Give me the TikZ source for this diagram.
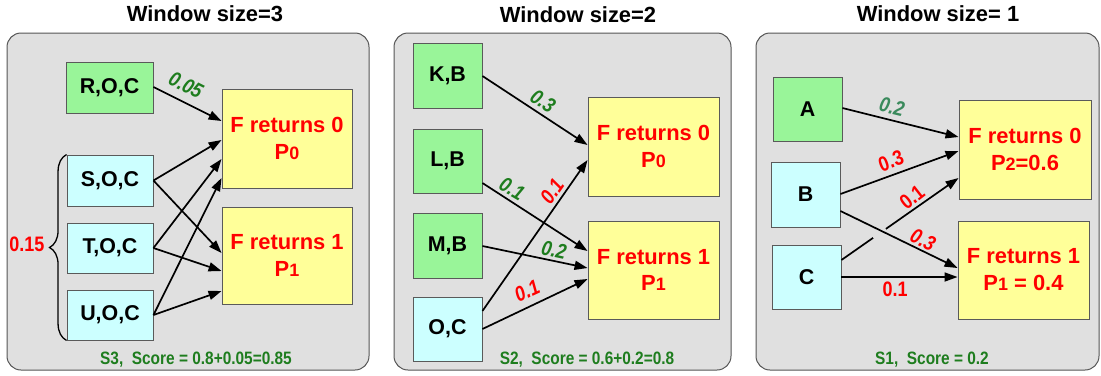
\documentclass[tikz,border=0pt]{standalone}
\usepackage{fontspec}
\setmainfont{Liberation Sans}
\newfontfamily\narrowfont[FakeStretch=0.86]{Liberation Sans}
\usetikzlibrary{arrows.meta,decorations.pathreplacing,calc}
\definecolor{panelfill}{HTML}{E0E0E0}
\definecolor{panelline}{HTML}{555555}
\definecolor{boxgreen}{HTML}{99F599}
\definecolor{boxcyan}{HTML}{CCFFFF}
\definecolor{boxyellow}{HTML}{FFFF99}
\definecolor{boxline}{HTML}{5A5A5A}
\definecolor{txtred}{HTML}{FF0000}
\definecolor{txtgreen}{HTML}{1E7D1E}
\definecolor{txtteal}{HTML}{3A8A5C}
\tikzset{
  panel/.style={draw=panelline, fill=panelfill, line width=1bp, rounded corners=14bp},
  title/.style={font=\fontsize{22}{25}\selectfont\bfseries},
  inbox/.style={draw=boxline, line width=0.9bp, font=\fontsize{21.5}{25}\selectfont\bfseries, inner sep=0pt},
  grn/.style={inbox, fill=boxgreen},
  cyn/.style={inbox, fill=boxcyan},
  outbox/.style={draw=boxline, line width=0.9bp, fill=boxyellow, text=txtred, align=center,
     font=\fontsize{22}{27}\selectfont\bfseries, inner sep=0pt},
  arr/.style={draw=black, line width=1.7bp, -{Triangle[length=13bp,width=9bp]}},
  seg/.style={draw=black, line width=1.7bp},
  lab/.style={font=\narrowfont\fontsize{21}{24}\selectfont\bfseries, inner sep=0pt},
  labi/.style={lab, font=\narrowfont\fontsize{21}{24}\selectfont\bfseries\itshape},
  score/.style={font=\narrowfont\fontsize{18}{21}\selectfont\bfseries, text=txtgreen, inner sep=0pt},
}
\newcommand{\smalldig}[1]{{\fontsize{18}{20}\selectfont #1}}
\begin{document}
\begin{tikzpicture}[x=1bp,y=-1bp]
\useasboundingbox (0,0) rectangle (1101,375);

% ---------- panel 1 ----------
\node[title] (t1) at (205,14) {Window size=3};
\draw[panel] (7,33) rectangle (369,370);
\node[grn, minimum width=87bp, minimum height=51bp] (roc) at (109.5,87.5) {R,O,C};
\node[cyn, minimum width=86bp, minimum height=51bp] (soc) at (110,180.5) {S,O,C};
\node[cyn, minimum width=86bp, minimum height=50bp] (toc) at (110,248) {T,O,C};
\node[cyn, minimum width=86bp, minimum height=50bp] (uoc) at (110,315) {U,O,C};
\node[outbox, minimum width=130bp, minimum height=99bp] (fa0) at (287,138.5) {F returns 0\\P\smalldig{0}};
\node[outbox, minimum width=130bp, minimum height=97bp] (fa1) at (287,255.5) {F returns 1\\P\smalldig{1}};

\draw[arr] (roc.east |- 0,87) -- (fa0.west |- 0,121);
\draw[arr] (soc.east) -- (fa0.west |- 0,140);
\draw[arr] (soc.east) -- (fa1.west |- 0,253);
\draw[arr] (toc.east) -- (fa0.west |- 0,159);
\draw[arr] (toc.east) -- (fa1.west |- 0,271);
\draw[arr] (uoc.east) -- (fa0.west |- 0,178);
\draw[arr] (uoc.east) -- (fa1.west |- 0,291);

\node[labi, text=txtgreen, rotate=-27] (l105) at (186,85) {0.05};
\draw[line width=1.3bp, decorate, decoration={brace, amplitude=17bp}] (uoc.south west) -- (soc.north west);
\node[lab, text=txtred] (l115) at (27,244) {0.15};
\node[score] (s1) at (196,360) {S3,\ \ Score = 0.8+0.05=0.85};

% ---------- panel 2 ----------
\node[title] (t2) at (578,15) {Window size=2};
\draw[panel] (394,33) rectangle (731,370);
\node[grn, minimum width=69bp, minimum height=65bp] (kb) at (447.5,75.5) {K,B};
\node[grn, minimum width=69bp, minimum height=64bp] (lb) at (447.5,161) {L,B};
\node[grn, minimum width=69bp, minimum height=65bp] (mb) at (447.5,245.5) {M,B};
\node[cyn, minimum width=69bp, minimum height=64bp] (oc) at (447.5,329) {O,C};
\node[outbox, minimum width=131bp, minimum height=99bp] (fb0) at (653.5,146.5) {F returns 0\\P\smalldig{0}};
\node[outbox, minimum width=131bp, minimum height=98bp] (fb1) at (653.5,270) {F returns 1\\P\smalldig{1}};

\draw[arr] (kb.east |- 0,76) -- (fb0.west |- 0,145);
\draw[arr] (lb.east |- 0,183) -- (fb1.west |- 0,251);
\draw[arr] (mb.east |- 0,246) -- (fb1.west |- 0,268);
\draw[arr] (oc.east |- 0,311) -- (fb0.west |- 0,160);
\draw[arr] (oc.east |- 0,329) -- (fb1.west |- 0,279);

\node[labi, text=txtgreen, rotate=-33] (l203) at (543,101) {0.3};
\node[labi, text=txtgreen, rotate=-30] (l201) at (512,189) {0.1};
\node[labi, text=txtgreen, rotate=-12] (l202) at (554,250) {0.2};
\node[labi, text=txtred, rotate=55] (l2r1) at (552,191) {0.1};
\node[labi, text=txtred, rotate=25] (l2r2) at (527,291) {0.1};
\node[score] (s2) at (587,360) {S2,\ \ Score = 0.6+0.2=0.8};

% ---------- panel 3 ----------
\node[title] (t3) at (938,14) {Window size= 1};
\draw[panel] (756,33) rectangle (1099,370);
\node[grn, minimum width=69bp, minimum height=64bp] (na) at (807.5,109) {A};
\node[cyn, minimum width=69bp, minimum height=65bp] (nb) at (805.5,194.5) {B};
\node[cyn, minimum width=69bp, minimum height=64bp] (nc) at (806.5,277) {C};
\node[outbox, minimum width=132bp, minimum height=99bp] (fc0) at (1025,149.5) {F returns 0\\P\smalldig{2}=0.6};
\node[outbox, minimum width=131bp, minimum height=98bp] (fc1) at (1023.5,270) {F returns 1\\P\smalldig{1} = 0.4};

\draw[arr] (na.east |- 0,108) -- (fc0.west |- 0,137);
\draw[arr] (nb.east |- 0,194) -- (fc0.west |- 0,151);
\draw[arr] (nb.east |- 0,211) -- (fc1.west |- 0,268);
\coordinate (cst) at (nc.east |- 0,260);
\coordinate (cend) at (fc0.west |- 0,178);
\coordinate (gapa) at ($(cst)!0.27!(cend)$);
\coordinate (gapb) at ($(cst)!0.38!(cend)$);
\draw[seg] (cst) -- (gapa);
\draw[arr] (gapb) -- (cend);
\draw[arr] (nc.east |- 0,277) -- (fc1.west |- 0,277);

\node[labi, text=txtteal, rotate=-14] (l302) at (892,107) {0.2};
\node[lab, text=txtred, rotate=20] (l303) at (891,161) {0.3};
\node[labi, text=txtred, rotate=-26] (l303b) at (923,240) {0.3};
\node[lab, text=txtred, rotate=38] (l301) at (912,197) {0.1};
\node[lab, text=txtred] (l301b) at (895,289) {0.1};
\node[score] (s3) at (932,360) {S1,\ \ Score = 0.2};
\end{tikzpicture}
\end{document}
